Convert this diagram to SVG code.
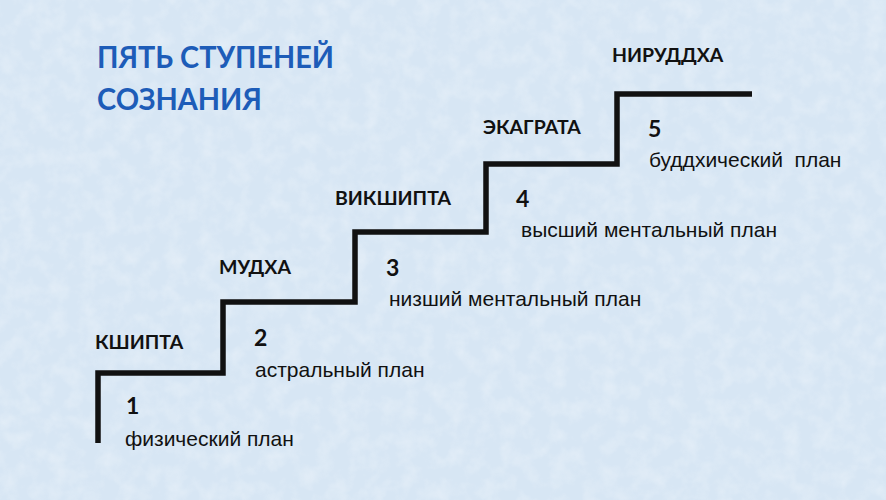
<svg xmlns="http://www.w3.org/2000/svg" width="886" height="500" viewBox="0 0 886 500">
  <defs>
    <filter id="tex" x="0" y="0" width="100%" height="100%">
      <feTurbulence type="fractalNoise" baseFrequency="0.06" numOctaves="3" seed="4" result="n"/>
      <feColorMatrix in="n" type="matrix" values="0 0 0 0 1  0 0 0 0 1  0 0 0 0 1  0 0 0 0.9 -0.35"/>
    </filter>
  </defs>
  <style>
    .title { font-family: "Lato", "Noto Sans", "Liberation Sans", sans-serif; font-weight: bold; font-size: 30px; fill: #1d5cb8; }
    .stage { font-family: "Lato", "Noto Sans", "Liberation Sans", sans-serif; font-weight: bold; font-size: 19.5px; fill: #111; }
    .num { font-family: "Lato", "Noto Sans", "Liberation Sans", sans-serif; font-weight: bold; font-size: 23px; fill: #111; }
    .plan { font-family: "Liberation Sans", Arial, sans-serif; font-size: 21px; fill: #111; }
    .stairs { fill: none; stroke: #111; stroke-width: 5.5; stroke-linejoin: miter; stroke-linecap: butt; }
  </style>
  <rect width="886" height="500" fill="#d7e6f4"/>
  <rect width="886" height="500" filter="url(#tex)" opacity="0.6"/>

  <g id="title">
    <text class="title" x="97" y="68" textLength="237" lengthAdjust="spacingAndGlyphs">ПЯТЬ СТУПЕНЕЙ</text>
    <text class="title" x="97" y="110" textLength="165" lengthAdjust="spacingAndGlyphs">СОЗНАНИЯ</text>
  </g>

  <g id="connectors">
    <path class="stairs" d="M98,443 V373 H223 V302 H355 V232 H486 V164 H617 V94 H752"/>
  </g>

  <g id="step1">
    <text class="stage" x="95" y="349">КШИПТА</text>
    <text class="num" x="126" y="414">1</text>
    <text class="plan" x="125" y="446">физический план</text>
  </g>
  <g id="step2">
    <text class="stage" x="219" y="274">МУДХА</text>
    <text class="num" x="254" y="346">2</text>
    <text class="plan" x="255" y="377">астральный план</text>
  </g>
  <g id="step3">
    <text class="stage" x="335" y="205">ВИКШИПТА</text>
    <text class="num" x="386" y="276">3</text>
    <text class="plan" x="389" y="306">низший ментальный план</text>
  </g>
  <g id="step4">
    <text class="stage" x="483" y="134">ЭКАГРАТА</text>
    <text class="num" x="516" y="207">4</text>
    <text class="plan" x="521" y="237">высший ментальный план</text>
  </g>
  <g id="step5">
    <text class="stage" x="612" y="62">НИРУДДХА</text>
    <text class="num" x="648" y="137">5</text>
    <text class="plan" x="649" y="167" xml:space="preserve">буддхический  план</text>
  </g>
</svg>
